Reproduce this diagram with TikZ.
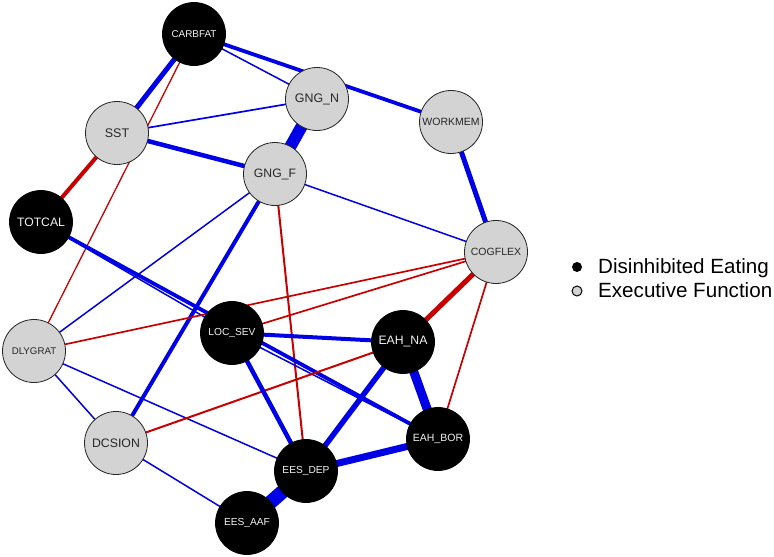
\documentclass[tikz,border=0pt]{standalone}
\usepackage{fontspec}
\setmainfont{Liberation Sans}
\usetikzlibrary{backgrounds}
\definecolor{posc}{RGB}{0,0,230}
\definecolor{negc}{RGB}{200,0,0}
\definecolor{efgrey}{RGB}{211,211,211}
\begin{document}
\begin{tikzpicture}[x=1pt,y=-1pt,
  denode/.style={circle, fill=black, draw=black, line width=0.8pt, minimum size=63pt, inner sep=0pt, text=white!95!black},
  efnode/.style={circle, fill=efgrey, draw=black!85, line width=0.8pt, minimum size=63pt, inner sep=0pt, text=black!85},
  fsz/.style={font=\fontsize{#1}{#1}\selectfont},
  posedge/.style={draw=posc, line width=#1pt},
  negedge/.style={draw=negc, line width=#1pt}]
\useasboundingbox (0,0) rectangle (774,557);

% nodes
\node[denode, fsz=9.9]  (CARBFAT) at (194,34)  {CARBFAT};
\node[efnode, fsz=12.4] (GNGN)    at (317,99)  {GNG\_N};
\node[efnode, fsz=10.5] (WORKMEM) at (451,122) {WORKMEM};
\node[efnode, fsz=12.5] (SST)     at (117,133) {SST};
\node[efnode, fsz=12.2] (GNGF)    at (275,174) {GNG\_F};
\node[denode, fsz=12.2] (TOTCAL)  at (41,222)  {TOTCAL};
\node[efnode, fsz=10.5] (COGFLEX) at (496,252) {COGFLEX};
\node[efnode, fsz=9.7]  (DLYGRAT) at (34,351)  {DLYGRAT};
\node[denode, fsz=10.2] (LOCSEV)  at (232,333) {LOC\_SEV};
\node[denode, fsz=12.2] (EAHNA)   at (403,342) {EAH\_NA};
\node[efnode, fsz=12.3] (DCSION)  at (116,443) {DCSION};
\node[denode, fsz=10.5] (EAHBOR)  at (438,439) {EAH\_BOR};
\node[denode, fsz=10.2] (EESDEP)  at (306,471) {EES\_DEP};
\node[denode, fsz=10.2] (EESAAF)  at (247,523) {EES\_AAF};

% edges
\begin{scope}[on background layer]
\fill[white] (0,0) rectangle (774,557);
\draw[posedge=1.5] (CARBFAT.center) -- (GNGN.center);
\draw[posedge=3.8] (CARBFAT.center) -- (WORKMEM.center);
\draw[posedge=5]   (CARBFAT.center) -- (SST.center);
\draw[negedge=1.3] (CARBFAT.center) -- (DLYGRAT.center);
\draw[posedge=1.7] (SST.center) -- (GNGN.center);
\draw[posedge=4.5] (SST.center) -- (GNGF.center);
\draw[negedge=4]   (SST.center) -- (TOTCAL.center);
\draw[posedge=12]  (GNGN.center) -- (GNGF.center);
\draw[posedge=1.5] (GNGF.center) -- (COGFLEX.center);
\draw[posedge=1.5] (GNGF.center) -- (DLYGRAT.center);
\draw[posedge=4]   (GNGF.center) -- (DCSION.center);
\draw[negedge=2]   (GNGF.center) -- (EESDEP.center);
\draw[posedge=5]   (WORKMEM.center) -- (COGFLEX.center);
\draw[posedge=3.8] (TOTCAL.center) -- (EAHBOR.center);
\draw[posedge=1.5] (TOTCAL.center) -- (LOCSEV.center);
\draw[posedge=1.5] (LOCSEV.center) -- (EAHBOR.center);
\draw[negedge=1.7] (COGFLEX.center) -- (DLYGRAT.center);
\draw[negedge=1.7] (COGFLEX.center) -- (LOCSEV.center);
\draw[negedge=5]   (COGFLEX.center) -- (EAHNA.center);
\draw[negedge=1.7] (COGFLEX.center) -- (EAHBOR.center);
\draw[posedge=1.5] (DLYGRAT.center) -- (DCSION.center);
\draw[posedge=1.5] (DLYGRAT.center) -- (EESDEP.center);
\draw[negedge=2]   (DCSION.center) -- (EAHNA.center);
\draw[posedge=1.5] (DCSION.center) -- (EESAAF.center);
\draw[posedge=4]   (LOCSEV.center) -- (EAHNA.center);
\draw[posedge=4.5] (LOCSEV.center) -- (EESDEP.center);
\draw[posedge=5.5] (EAHNA.center) -- (EESDEP.center);
\draw[posedge=9]   (EAHNA.center) -- (EAHBOR.center);
\draw[posedge=7]   (EESDEP.center) -- (EAHBOR.center);
\draw[posedge=14]  (EESDEP.center) -- (EESAAF.center);
\end{scope}

% legend
\node[circle, fill=black, minimum size=10pt, inner sep=0pt] (dotde) at (577,267) {};
\node[circle, fill=efgrey, draw=black, line width=1pt, minimum size=10pt, inner sep=0pt] (dotef) at (577,291) {};
\node[anchor=base west, inner sep=0pt, fsz=20.6] (legde) at (598,273) {Disinhibited Eating};
\node[anchor=base west, inner sep=0pt, fsz=20.6] (legef) at (598,297) {Executive Function};
\end{tikzpicture}
\end{document}
